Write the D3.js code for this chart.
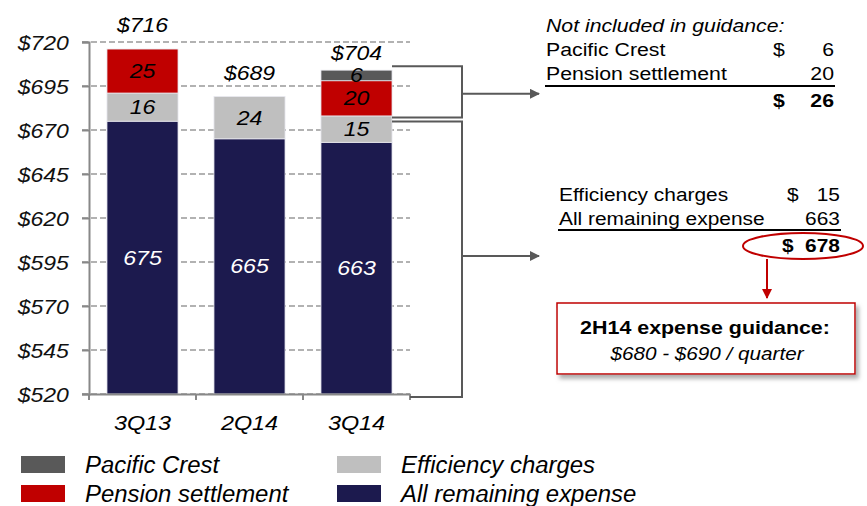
<!DOCTYPE html>
<html lang="en">
<head>
    <meta charset="UTF-8">
    <title>Expense walk</title>
    <script src="https://d3js.org/d3.v7.min.js"></script>
    <style>
        body {
            margin: 0;
            padding: 0;
            background-color: #fff;
        }
        svg text {
            font-family: "Liberation Sans", Arial, sans-serif;
        }
    </style>
</head>
<body>
    <svg id="chart" width="867" height="506"></svg>

    <script>
        // Chart data
        var categories = ["3Q13", "2Q14", "3Q14"];
        var remaining  = [675, 665, 663];
        var efficiency = [16, 24, 15];
        var pension    = [25, 0, 20];
        var pacific    = [0, 0, 6];
        var yTicks = [520, 545, 570, 595, 620, 645, 670, 695, 720];

        var seriesNames  = ["All remaining expense", "Efficiency charges", "Pension settlement", "Pacific Crest"];
        var seriesColors = ["#1c1a4e", "#bfbfbf", "#c00000", "#595959"];
        var labelColors  = ["#fff", "#000", "#000", "#000"];

        // Side notes
        var notIncludedRows = ["Pacific Crest", "Pension settlement"];
        var notIncludedVals = [6, 20];
        var guidanceRows = ["Efficiency charges", "All remaining expense"];
        var guidanceVals = [15, 663];
        var guidanceTitle = "2H14 expense guidance:";
        var guidanceRange = "$680 - $690 / quarter";

        var svg = d3.select("#chart");

        // scales
        var x = d3.scaleBand()
            .domain(categories)
            .range([89, 410])
            .paddingInner(0.336)
            .paddingOuter(0.168);
        var y = d3.scaleLinear().domain([520, 720]).range([394, 42]);
        var yMin = y.domain()[0];

        // text helper - source slide text is a bit stretched horizontally
        function label(g, px, py, str, o) {
            return g.append("text")
                .attr("transform", "translate(" + px + "," + py + ") scale(" + (o.sx || 1) + ",1)")
                .attr("text-anchor", o.anchor || "start")
                .style("font-size", (o.size || 19) + "px")
                .style("font-style", o.italic ? "italic" : "normal")
                .style("font-weight", o.bold ? "bold" : "normal")
                .style("fill", o.fill || "#000")
                .text(str);
        }

        var defs = svg.append("defs");
        defs.append("marker").attr("id", "arrGray")
            .attr("viewBox", "0 0 10 10").attr("refX", 9).attr("refY", 5)
            .attr("markerWidth", 5).attr("markerHeight", 5).attr("orient", "auto")
            .append("path").attr("d", "M0,0L10,5L0,10Z").attr("fill", "#595959");
        defs.append("marker").attr("id", "arrRed")
            .attr("viewBox", "0 0 10 10").attr("refX", 9).attr("refY", 5)
            .attr("markerWidth", 5).attr("markerHeight", 5).attr("orient", "auto")
            .append("path").attr("d", "M0,0L10,5L0,10Z").attr("fill", "#c00000");
        var shadow = defs.append("filter").attr("id", "shadow")
            .attr("x", "-10%").attr("y", "-10%").attr("width", "130%").attr("height", "140%");
        shadow.append("feDropShadow").attr("dx", 3).attr("dy", 4).attr("stdDeviation", 2)
            .attr("flood-color", "#777").attr("flood-opacity", 0.6);

        // grid lines
        svg.append("g")
            .selectAll("line")
            .data(yTicks)
            .enter()
            .append("line")
                .attr("x1", 82).attr("x2", 410)
                .attr("y1", d => y(d)).attr("y2", d => y(d))
                .attr("stroke", "#999").attr("stroke-width", 1.5)
                .attr("stroke-dasharray", "6,3");

        // stacked bars (axis starts at $520, so clamp the base)
        var stack = d3.stack().keys([0, 1, 2, 3]).value((d, k) => d[k]);
        var rows = categories.map((c, i) => [remaining[i], efficiency[i], pension[i], pacific[i]]);
        var layers = stack(rows);
        function lo(d) { return Math.max(d[0], yMin); }

        layers.forEach(function(layer, k) {
            svg.append("g")
                .selectAll("rect")
                .data(layer.map((d, i) => ({ s: d, i: i })).filter(d => d.s[1] > d.s[0]))
                .enter()
                .append("rect")
                    .attr("x", d => x(categories[d.i]))
                    .attr("width", x.bandwidth())
                    .attr("y", d => y(d.s[1]))
                    .attr("height", d => y(lo(d.s)) - y(d.s[1]))
                    .attr("fill", seriesColors[k])
                    .attr("stroke", "#e8e8ee").attr("stroke-width", 0.8);
        });

        // segment labels
        var segLabels = svg.append("g");
        layers.forEach(function(layer, k) {
            layer.forEach(function(d, i) {
                if (d[1] <= d[0]) return;
                var cy = (y(lo(d)) + y(d[1])) / 2;
                label(segLabels, x(categories[i]) + x.bandwidth() / 2, cy + 7, d[1] - d[0],
                    { size: 21, italic: true, anchor: "middle", fill: labelColors[k], sx: 1.1 });
            });
        });

        // totals
        var totals = rows.map(r => d3.sum(r));
        totals.forEach(function(t, i) {
            var off = i === 2 ? 10 : 17;
            label(svg, x(categories[i]) + x.bandwidth() / 2, y(t) - off, "$" + t,
                { size: 20, italic: true, anchor: "middle", sx: 1.15 });
        });

        // y axis
        var yAxis = svg.append("g")
            .attr("transform", "translate(89,0)")
            .call(d3.axisLeft(y).tickValues(yTicks).tickSize(7).tickFormat(d => "$" + d));
        yAxis.select(".domain").attr("stroke", "#888").attr("stroke-width", 2);
        yAxis.selectAll(".tick line").attr("stroke", "#888").attr("stroke-width", 2);
        yAxis.selectAll(".tick text")
            .attr("x", -17.5).attr("dy", "0.36em")
            .attr("transform", "scale(1.15,1)")
            .style("font-size", "20px").style("font-style", "italic").style("fill", "#111");

        // x axis
        var xAxis = svg.append("g")
            .attr("transform", "translate(0,394)")
            .call(d3.axisBottom(x).tickSize(0).tickSizeOuter(0));
        xAxis.select(".domain").attr("stroke", "#888").attr("stroke-width", 2);
        xAxis.selectAll(".tick text").remove();
        categories.forEach(function(c) {
            label(xAxis, x(c) + x.bandwidth() / 2, 36, c, { size: 20, italic: true, anchor: "middle", sx: 1.17 });
        });
        xAxis.selectAll("line.sep")
            .data(d3.range(categories.length + 1))
            .enter()
            .append("line").attr("class", "sep")
                .attr("x1", i => 89 + i * x.step()).attr("x2", i => 89 + i * x.step())
                .attr("y1", 0).attr("y2", 6)
                .attr("stroke", "#888").attr("stroke-width", 2);

        // brackets on last bar
        var last = categories.length - 1;
        var bx0 = x(categories[last]) + x.bandwidth();
        var bx1 = 462;
        var brk = svg.append("g").attr("fill", "none").attr("stroke", "#595959").attr("stroke-width", 2);
        var topY = y(totals[last]) - 4, midY = y(remaining[last] + efficiency[last]) + 1.5;
        brk.append("path").attr("d", "M" + bx0 + "," + topY + "H" + bx1 + "V" + midY + "H" + bx0);
        var lowTop = y(remaining[last] + efficiency[last]) + 5.5, lowBot = y(yMin) + 3;
        brk.append("path").attr("d", "M" + bx0 + "," + lowTop + "H" + bx1 + "V" + lowBot + "H" + 410);
        brk.append("line").attr("x1", bx1).attr("x2", 539)
            .attr("y1", (topY + midY) / 2 + 2).attr("y2", (topY + midY) / 2 + 2)
            .attr("marker-end", "url(#arrGray)");
        brk.append("line").attr("x1", bx1).attr("x2", 539)
            .attr("y1", 256).attr("y2", 256)
            .attr("marker-end", "url(#arrGray)");

        // Not included in guidance block
        var note1 = svg.append("g");
        label(note1, 546, 32, "Not included in guidance:", { size: 18, italic: true, sx: 1.18 });
        notIncludedRows.forEach(function(r, i) {
            label(note1, 546, 56 + i * 24, r, { size: 19, sx: 1.12 });
            label(note1, 834, 56 + i * 24, notIncludedVals[i], { size: 19, anchor: "end", sx: 1.12 });
        });
        label(note1, 773, 56, "$", { size: 19, sx: 1.12 });
        note1.append("line").attr("x1", 545).attr("x2", 835).attr("y1", 86).attr("y2", 86)
            .attr("stroke", "#000").attr("stroke-width", 2);
        label(note1, 773, 107, "$", { size: 19, bold: true, sx: 1.12 });
        label(note1, 834, 107, d3.sum(notIncludedVals), { size: 19, bold: true, anchor: "end", sx: 1.12 });

        // guidance block
        var note2 = svg.append("g");
        guidanceRows.forEach(function(r, i) {
            label(note2, 559, 201 + i * 24, r, { size: 19, sx: 1.1 });
            label(note2, 840, 201 + i * 24, guidanceVals[i], { size: 19, anchor: "end", sx: 1.1 });
        });
        label(note2, 787, 201, "$", { size: 19, sx: 1.1 });
        note2.append("line").attr("x1", 558).attr("x2", 841).attr("y1", 230).attr("y2", 230)
            .attr("stroke", "#000").attr("stroke-width", 2);
        label(note2, 782, 252, "$", { size: 19, bold: true, sx: 1.1 });
        label(note2, 840, 252, d3.sum(guidanceVals), { size: 19, bold: true, anchor: "end", sx: 1.1 });
        note2.append("ellipse").attr("cx", 803).attr("cy", 246).attr("rx", 60).attr("ry", 13)
            .attr("fill", "none").attr("stroke", "#c00000").attr("stroke-width", 2);
        note2.append("line").attr("x1", 767).attr("x2", 767).attr("y1", 259).attr("y2", 298)
            .attr("stroke", "#c00000").attr("stroke-width", 2)
            .attr("marker-end", "url(#arrRed)");

        // guidance box
        note2.append("rect").attr("x", 557).attr("y", 303).attr("width", 298).attr("height", 71)
            .attr("fill", "#fff").attr("stroke", "#c00000").attr("stroke-width", 1.5)
            .attr("filter", "url(#shadow)");
        label(note2, 705, 334, guidanceTitle, { size: 18, bold: true, anchor: "middle", sx: 1.19 });
        label(note2, 707, 360, guidanceRange, { size: 18, italic: true, anchor: "middle", sx: 1.15 });

        // legend (two columns, top row then bottom row)
        var legendOrder = [3, 2, 1, 0];
        var legend = svg.append("g");
        legendOrder.forEach(function(k, j) {
            var col = Math.floor(j / 2), row = j % 2;
            var lx = col === 0 ? 21 : 337;
            var ly = 456 + row * 29;
            legend.append("rect").attr("x", lx).attr("y", ly).attr("width", 44).attr("height", 17)
                .attr("fill", seriesColors[k]);
            label(legend, lx + 64, ly + 17, seriesNames[k], { size: 23, italic: true, sx: 1.04 });
        });
    </script>
</body>
</html>
